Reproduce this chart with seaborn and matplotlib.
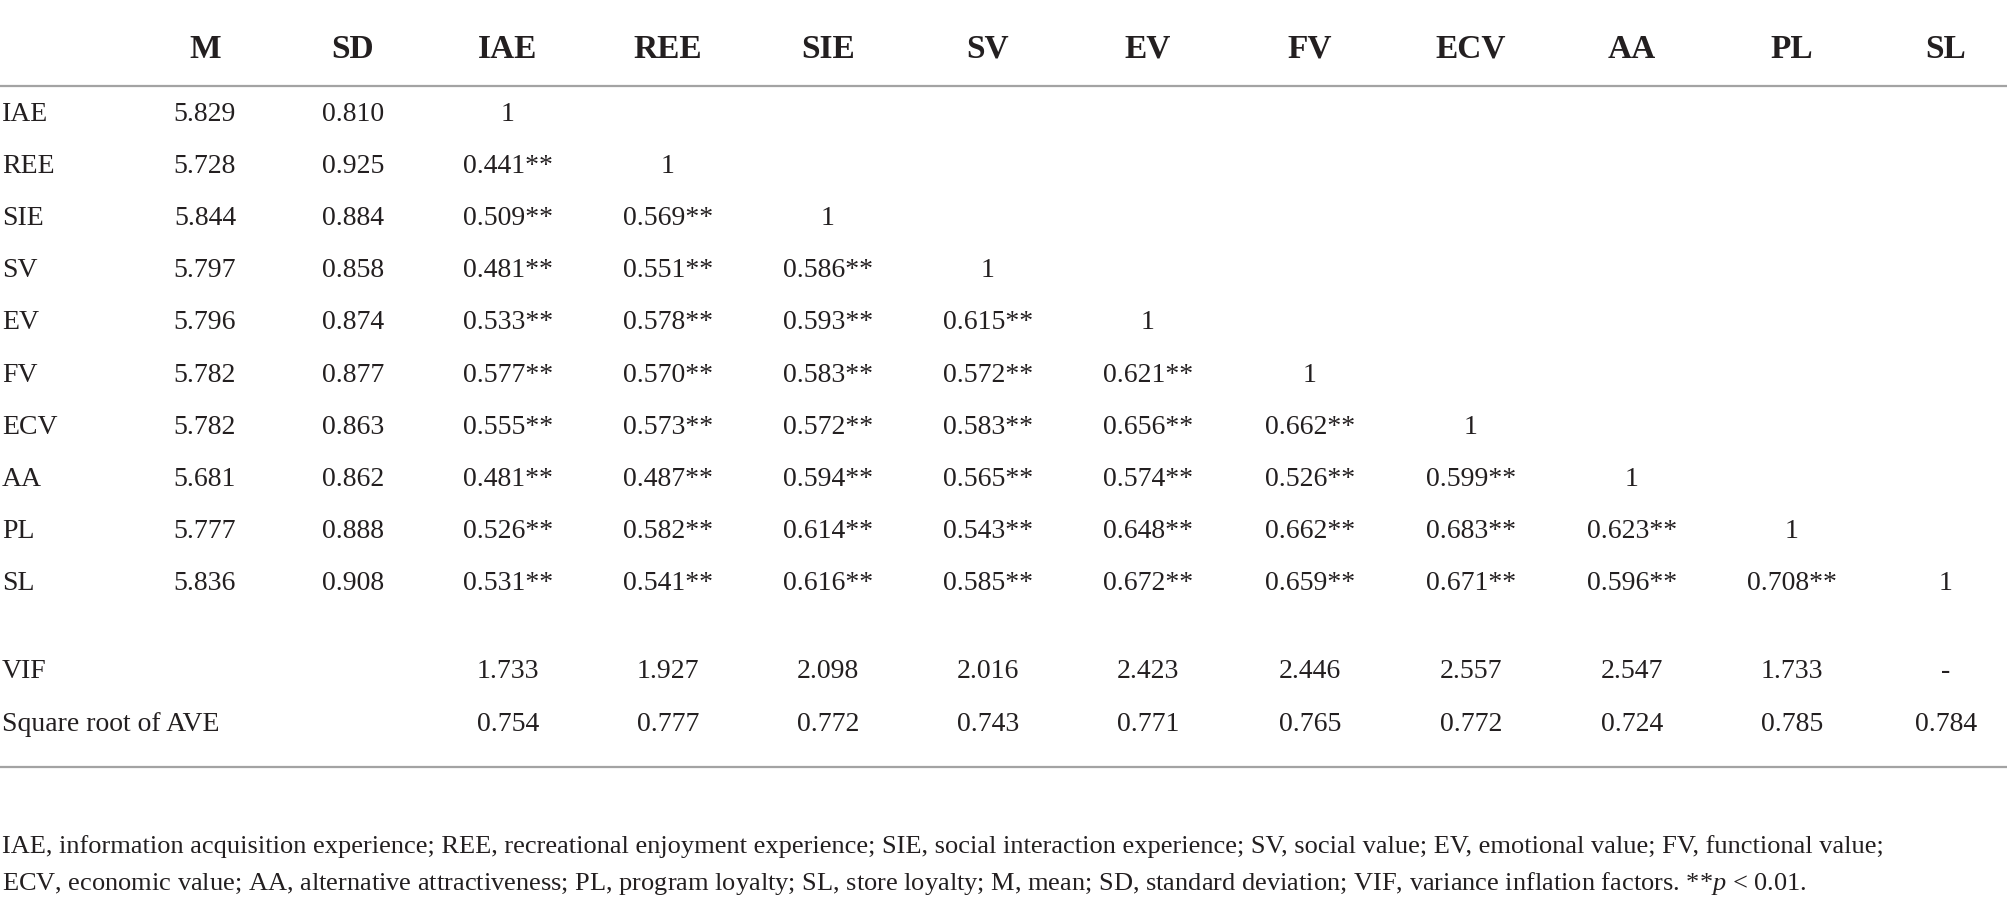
import numpy as np
import pandas as pd
import seaborn as sns
import matplotlib.pyplot as plt

sns.set_theme(style="white")
plt.rcParams['font.family'] = ['Liberation Serif', 'DejaVu Serif']
plt.rcParams['mathtext.fontset'] = 'custom'
plt.rcParams['mathtext.rm'] = 'Liberation Serif'
plt.rcParams['mathtext.it'] = 'Liberation Serif:italic'

variables = ['IAE', 'REE', 'SIE', 'SV', 'EV', 'FV', 'ECV', 'AA', 'PL', 'SL']
means = [5.829, 5.728, 5.844, 5.797, 5.796, 5.782, 5.782, 5.681, 5.777, 5.836]
sds = [0.810, 0.925, 0.884, 0.858, 0.874, 0.877, 0.863, 0.862, 0.888, 0.908]
corr_lower = [
    [],
    [0.441],
    [0.509, 0.569],
    [0.481, 0.551, 0.586],
    [0.533, 0.578, 0.593, 0.615],
    [0.577, 0.570, 0.583, 0.572, 0.621],
    [0.555, 0.573, 0.572, 0.583, 0.656, 0.662],
    [0.481, 0.487, 0.594, 0.565, 0.574, 0.526, 0.599],
    [0.526, 0.582, 0.614, 0.543, 0.648, 0.662, 0.683, 0.623],
    [0.531, 0.541, 0.616, 0.585, 0.672, 0.659, 0.671, 0.596, 0.708],
]
vif = [1.733, 1.927, 2.098, 2.016, 2.423, 2.446, 2.557, 2.547, 1.733, None]
sqrt_ave = [0.754, 0.777, 0.772, 0.743, 0.771, 0.765, 0.772, 0.724, 0.785, 0.784]
footnote = [
    "IAE, information acquisition experience; REE, recreational enjoyment experience; "
    "SIE, social interaction experience; SV, social value; EV, emotional value; FV, functional value;",
    "ECV, economic value; AA, alternative attractiveness; PL, program loyalty; SL, store loyalty; "
    "M, mean; SD, standard deviation; VIF, variance inflation factors. **$p$ < 0.01.",
]

# build the table cells as strings
header = ['M', 'SD'] + variables
rows = []
for i, v in enumerate(variables):
    cells = [f"{means[i]:.3f}", f"{sds[i]:.3f}"]
    cells += [f"{c:.3f}**" for c in corr_lower[i]] + ['1']
    cells += [''] * (len(header) - len(cells))
    rows.append([v] + cells)
table = pd.DataFrame(rows, columns=['var'] + header)

ink = '#231f20'
rule = '#a3a3a3'
fs = 20

fig = plt.figure(figsize=(20.08, 9.13), dpi=100)
ax = fig.add_axes([0, 0, 1, 1])
ax.set_xlim(0, 2008)
ax.set_ylim(913, 0)
ax.axis('off')

col_x = [205, 353, 508, 668, 828, 988, 1148, 1310, 1471, 1632, 1792, 1946]
label_x = 2
head_base = 58
row_base0, row_dy = 121, 52.1

for x, h in zip(col_x, header):
    ax.text(x, head_base, h, ha='center', va='baseline', fontsize=24,
            fontweight='bold', color=ink)

for r, rec in table.iterrows():
    y = row_base0 + r * row_dy
    ax.text(label_x, y, rec['var'], ha='left', va='baseline', fontsize=fs, color=ink)
    for x, h in zip(col_x, header):
        if rec[h]:
            ax.text(x, y, rec[h], ha='center', va='baseline', fontsize=fs, color=ink)

vif_y, ave_y = 678, 731
ax.text(label_x, vif_y, 'VIF', ha='left', va='baseline', fontsize=fs, color=ink)
ax.text(label_x, ave_y, 'Square root of AVE', ha='left', va='baseline', fontsize=fs, color=ink)
for x, v, a in zip(col_x[2:], vif, sqrt_ave):
    ax.text(x, vif_y, '-' if v is None else f"{v:.3f}", ha='center', va='baseline',
            fontsize=fs, color=ink)
    ax.text(x, ave_y, f"{a:.3f}", ha='center', va='baseline', fontsize=fs, color=ink)

ax.axhline(86, color=rule, lw=1.6)
ax.axhline(767, color=rule, lw=1.6)

for k, line in enumerate(footnote):
    ax.text(label_x, 853 + k * 37, line, ha='left', va='baseline', fontsize=19, color=ink)

fig.savefig('out.png', dpi=100)
